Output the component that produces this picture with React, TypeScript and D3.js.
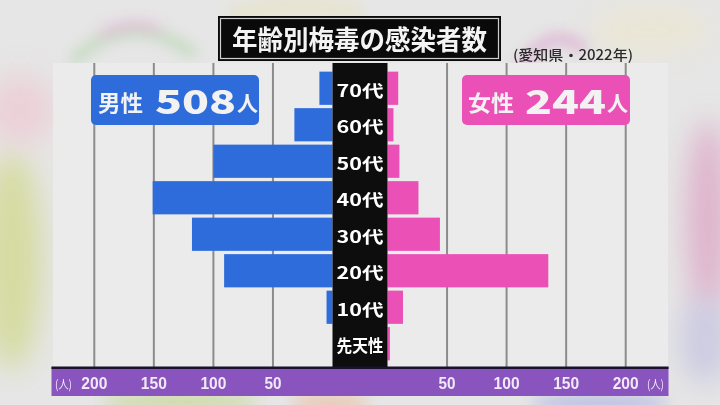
import React from "react";
import * as d3 from "d3";

const categories = ["70代", "60代", "50代", "40代", "30代", "20代", "10代", "先天性"];
const maleValues = [11, 32, 100, 151, 118, 91, 5, 0];
const femaleValues = [9, 5, 10, 26, 44, 135, 13, 2];
const tickValues = [50, 100, 150, 200];
const maleTotal = 508;
const femaleTotal = 244;
const titleText = "年齢別梅毒の感染者数";
const subtitleText = "(愛知県・2022年)";
const unitText = "(人)";

const W = 720;
const H = 405;
const BLUE = "#2f6cdb";
const PINK = "#ea50b6";
const PURPLE = "#8954bd";
const PANEL = "#ebebeb";
const GRID = "#8c8c8c";
const JP = "'Noto Sans CJK JP', 'Noto Sans', sans-serif";

export default function App() {
  const xLeft = d3.scaleLinear().domain([0, 200]).range([332.5, 94.3]);
  const xRight = d3.scaleLinear().domain([0, 200]).range([387.5, 625.7]);
  const y = d3
    .scaleBand<string>()
    .domain(categories)
    .range([70, 362])
    .paddingInner(0.09)
    .paddingOuter(0.045);

  const panelTop = 63;
  const panelBottom = 367;

  return (
    <svg
      width={W}
      height={H}
      viewBox={`0 0 ${W} ${H}`}
      style={{ position: "absolute", left: 0, top: 0, display: "block" }}
    >
      <defs>
        <filter id="blur" x="-50%" y="-50%" width="200%" height="200%">
          <feGaussianBlur stdDeviation="14" />
        </filter>
        <filter id="blurS" x="-50%" y="-50%" width="200%" height="200%">
          <feGaussianBlur stdDeviation="7" />
        </filter>
      </defs>
      {/* background */}
      <rect x={0} y={0} width={W} height={H} fill="#e6e6e6" />
      <g opacity={0.55}>
        <ellipse cx={12} cy={260} rx={30} ry={110} fill="#c9d36a" filter="url(#blur)" />
        <ellipse cx={20} cy={110} rx={35} ry={35} fill="#f0c0cc" filter="url(#blur)" />
        <ellipse cx={708} cy={220} rx={22} ry={100} fill="#d98ab8" filter="url(#blur)" />
        <ellipse cx={705} cy={340} rx={25} ry={45} fill="#b7b5de" filter="url(#blur)" />
        <ellipse cx={650} cy={30} rx={60} ry={25} fill="#efe6c8" filter="url(#blur)" />
        <ellipse cx={180} cy={402} rx={80} ry={8} fill="#b8d070" filter="url(#blurS)" />
        <ellipse cx={600} cy={403} rx={70} ry={8} fill="#9a9ee0" filter="url(#blurS)" />
        <ellipse cx={330} cy={403} rx={40} ry={6} fill="#f0a070" filter="url(#blurS)" />
      </g>
      {/* colorful ring above the panel */}
      <g filter="url(#blurS)" opacity={0.6}>
        <path d="M72,62 Q130,5 195,55" fill="none" stroke="#a8d0a0" strokeWidth={10} />
        <path d="M100,35 Q130,18 160,30" fill="none" stroke="#e0a0d0" strokeWidth={8} />
        <path d="M520,70 Q550,20 585,50" fill="none" stroke="#d890c8" strokeWidth={10} />
        <path d="M230,14 Q300,0 360,12" fill="none" stroke="#e8e0a8" strokeWidth={10} />
      </g>

      {/* panel */}
      <rect x={53} y={panelTop} width={615} height={panelBottom - panelTop} fill={PANEL} />
      {tickValues.map((t) => (
        <g key={"g" + t}>
          <line x1={xLeft(t)} x2={xLeft(t)} y1={panelTop} y2={panelBottom} stroke={GRID} strokeWidth={2} />
          <line x1={xRight(t)} x2={xRight(t)} y1={panelTop} y2={panelBottom} stroke={GRID} strokeWidth={2} />
        </g>
      ))}

      {/* bars */}
      {categories.map((c, i) => (
        <g key={"b" + c}>
          {maleValues[i] > 0 && (
            <rect
              x={xLeft(maleValues[i])}
              y={y(c)}
              width={xLeft(0) - xLeft(maleValues[i])}
              height={y.bandwidth()}
              fill={BLUE}
            />
          )}
          {femaleValues[i] > 0 && (
            <rect
              x={xRight(0)}
              y={y(c)}
              width={xRight(femaleValues[i]) - xRight(0)}
              height={y.bandwidth()}
              fill={PINK}
            />
          )}
        </g>
      ))}

      {/* center column */}
      <rect x={332.5} y={panelTop} width={55} height={panelBottom - panelTop} fill="#0d0d0d" />
      {categories.map((c) => (
        <text
          key={"l" + c}
          x={360}
          y={(y(c) as number) + y.bandwidth() / 2 + 1}
          textAnchor="middle"
          dominantBaseline="central"
          fill="#ffffff"
          fontFamily={JP}
          fontWeight={700}
          fontSize={17}
          textLength={c.length === 3 ? 47 : 42}
          lengthAdjust="spacingAndGlyphs"
        >
          {c}
        </text>
      ))}

      {/* legends */}
      <rect x={91} y={75} width={168} height={50} rx={5} fill={BLUE} />
      <text x={98} y={101} dominantBaseline="central" fill="#f2f2f2" fontFamily={JP} fontWeight={700} fontSize={22} textLength={45} lengthAdjust="spacingAndGlyphs">男性</text>
      <text x={155} y={100} dominantBaseline="central" fill="#f2f2f2" fontFamily={JP} fontWeight={900} fontSize={33} textLength={81} lengthAdjust="spacingAndGlyphs">{String(maleTotal)}</text>
      <text x={237} y={102} dominantBaseline="central" fill="#f2f2f2" fontFamily={JP} fontWeight={700} fontSize={21}>人</text>

      <rect x={462} y={75} width={168} height={50} rx={5} fill={PINK} />
      <text x={468} y={101} dominantBaseline="central" fill="#f2f2f2" fontFamily={JP} fontWeight={700} fontSize={22} textLength={46} lengthAdjust="spacingAndGlyphs">女性</text>
      <text x={525} y={100} dominantBaseline="central" fill="#f2f2f2" fontFamily={JP} fontWeight={900} fontSize={33} textLength={81} lengthAdjust="spacingAndGlyphs">{String(femaleTotal)}</text>
      <text x={607} y={102} dominantBaseline="central" fill="#f2f2f2" fontFamily={JP} fontWeight={700} fontSize={21}>人</text>

      {/* axis bar */}
      <rect x={51.5} y={367} width={617} height={29} fill={PURPLE} />
      <rect x={51.5} y={366.5} width={617} height={2.5} fill="#1a1030" />
      {tickValues.map((t) => (
        <g key={"t" + t}>
          <text x={xLeft(t)} y={383} textAnchor="middle" dominantBaseline="central" fill="#f1e9f8" fontFamily="'Liberation Sans', Arial, sans-serif" fontWeight={700} fontSize={16} textLength={t >= 100 ? 26 : 17} lengthAdjust="spacingAndGlyphs">{t}</text>
          <text x={xRight(t)} y={383} textAnchor="middle" dominantBaseline="central" fill="#f1e9f8" fontFamily="'Liberation Sans', Arial, sans-serif" fontWeight={700} fontSize={16} textLength={t >= 100 ? 26 : 17} lengthAdjust="spacingAndGlyphs">{t}</text>
        </g>
      ))}
      <text x={55} y={383} dominantBaseline="central" fill="#f1e9f8" fontFamily={JP} fontSize={12} textLength={17} lengthAdjust="spacingAndGlyphs">{unitText}</text>
      <text x={647} y={383} dominantBaseline="central" fill="#f1e9f8" fontFamily={JP} fontSize={12} textLength={17} lengthAdjust="spacingAndGlyphs">{unitText}</text>

      {/* title */}
      <rect x={218} y={16} width={283} height={45} fill="#0a0a0a" />
      <rect x={220.5} y={18.5} width={278} height={40} fill="none" stroke="#cfcfcf" strokeWidth={1.2} />
      <text x={359.5} y={38.5} textAnchor="middle" dominantBaseline="central" fill="#f4f4f4" fontFamily={JP} fontWeight={700} fontSize={27} textLength={255} lengthAdjust="spacingAndGlyphs">{titleText}</text>
      <text x={513} y={53.5} dominantBaseline="central" fill="#2a2a2a" fontFamily={JP} fontWeight={500} fontSize={14} textLength={120} lengthAdjust="spacingAndGlyphs">{subtitleText}</text>
    </svg>
  );
}
